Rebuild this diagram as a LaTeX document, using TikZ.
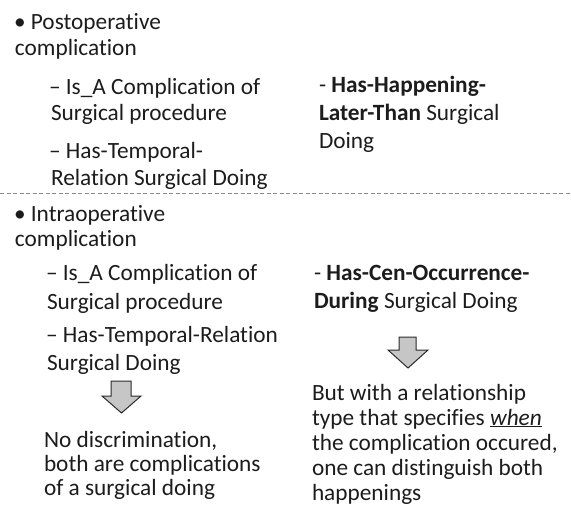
\documentclass[tikz,border=0pt]{standalone}
\usepackage{fontspec}
\setmainfont{Carlito}[Ligatures={NoCommon,NoRare,NoDiscretionary}]
\definecolor{txtcol}{HTML}{1C1C1C}
\definecolor{arrfill}{HTML}{C6C6C6}
\definecolor{arrdraw}{HTML}{2A2A2A}
\definecolor{dashcol}{HTML}{8A8A8A}
\tikzset{
  txt/.style={anchor=base west, inner sep=0pt, outer sep=0pt, text=txtcol,
              font=\fontsize{23.3}{26}\selectfont},
  downarrow/.style={fill=arrfill, draw=arrdraw, line width=1pt, line join=miter},
  sep/.style={draw=dashcol, line width=0.9pt, dash pattern=on 4pt off 2.5pt}
}
\begin{document}
\begin{tikzpicture}[x=1pt,y=-1pt]
\useasboundingbox (0,0) rectangle (571,511);
% top-left block
\node[txt] (p1) at (14,30) {• Postoperative};
\node[txt] (p2) at (15,56) {complication};
\node[txt] (p3) at (49,95) {– Is\_A Complication of};
\node[txt] (p4) at (51,121) {Surgical procedure};
\node[txt] (p5) at (49,158) {– Has-Temporal-};
\node[txt] (p6) at (51,185) {Relation Surgical Doing};
% top-right block
\node[txt] (r1) at (319,93) {- \textbf{Has-Happening-}};
\node[txt] (r2) at (319,121) {\textbf{Later-Than} Surgical};
\node[txt] (r3) at (319,148) {Doing};
% separator
\coordinate (sl) at (0,193);
\coordinate (sr) at (571,193);
\draw[sep] (sl) -- (sr);
% bottom-left block
\node[txt] (i1) at (14,221) {• Intraoperative};
\node[txt] (i2) at (15,246) {complication};
\node[txt] (i3) at (46,280) {– Is\_A Complication of};
\node[txt] (i4) at (47,309) {Surgical procedure};
\node[txt] (i5) at (46,342) {– Has-Temporal-Relation};
\node[txt] (i6) at (47,370) {Surgical Doing};
\node[txt] (n1) at (44,447) {No discrimination,};
\node[txt] (n2) at (44,471) {both are complications};
\node[txt] (n3) at (44,495) {of a surgical doing};
% bottom-right block
\node[txt] (c1) at (314,280) {- \textbf{Has-Cen-Occurrence-}};
\node[txt] (c2) at (314,308) {\textbf{During} Surgical Doing};
\node[txt] (b1) at (312,400) {But with a relationship};
\node[txt] (b2) at (312,425) {type that specifies \underline{\textit{when}}};
\node[txt] (b3) at (312,450) {the complication occured,};
\node[txt] (b4) at (312,475) {one can distinguish both};
\node[txt] (b5) at (312,500) {happenings};
% arrows
\draw[downarrow] (111,381) -- (131,381) -- (131,396) -- (141,396) -- (121.5,413)
  -- (102,396) -- (111,396) -- cycle;
\draw[downarrow] (399,337) -- (416,337) -- (416,350) -- (428,350) -- (408,368)
  -- (388,350) -- (399,350) -- cycle;
\end{tikzpicture}
\end{document}
